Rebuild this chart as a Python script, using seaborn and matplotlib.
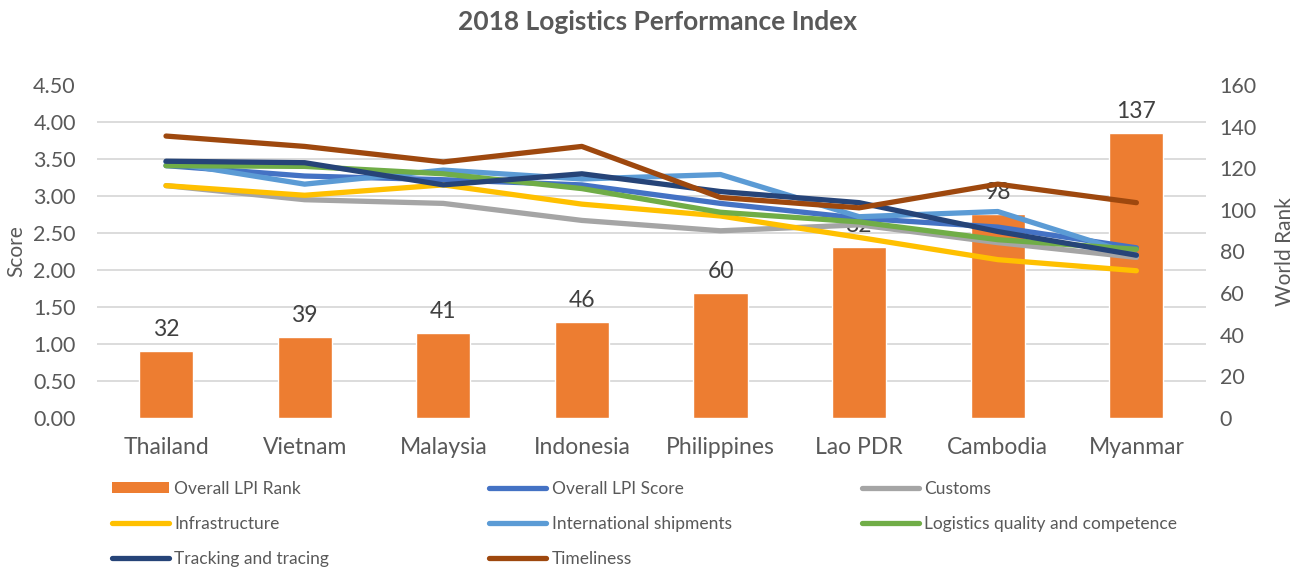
import matplotlib
matplotlib.use("Agg")
import matplotlib.pyplot as plt
import seaborn as sns
import pandas as pd
import numpy as np
from matplotlib.patches import Patch
from matplotlib.lines import Line2D

countries = ["Thailand", "Vietnam", "Malaysia", "Indonesia", "Philippines", "Lao PDR", "Cambodia", "Myanmar"]
lpi_rank = [32, 39, 41, 46, 60, 82, 98, 137]
overall_score = [3.41, 3.27, 3.22, 3.15, 2.90, 2.70, 2.58, 2.30]
customs = [3.14, 2.95, 2.90, 2.67, 2.53, 2.61, 2.37, 2.17]
infrastructure = [3.14, 3.01, 3.15, 2.89, 2.73, 2.44, 2.14, 1.99]
intl_shipments = [3.46, 3.16, 3.35, 3.23, 3.29, 2.72, 2.79, 2.20]
logistics_quality = [3.41, 3.40, 3.30, 3.10, 2.78, 2.65, 2.41, 2.28]
tracking = [3.47, 3.45, 3.15, 3.30, 3.06, 2.91, 2.52, 2.20]
timeliness = [3.81, 3.67, 3.46, 3.67, 2.98, 2.84, 3.16, 2.91]

series_names = ["Overall LPI Score", "Customs", "Infrastructure", "International shipments",
                "Logistics quality and competence", "Tracking and tracing", "Timeliness"]
series_values = [overall_score, customs, infrastructure, intl_shipments,
                 logistics_quality, tracking, timeliness]
series_colors = ["#4472C4", "#A5A5A5", "#FFC000", "#5B9BD5", "#70AD47", "#264478", "#9E480E"]
bar_color = "#ED7D31"
text_color = "#595959"

sns.set_theme(style="white")
plt.rcParams["font.family"] = ["Lato", "DejaVu Sans"]

fig = plt.figure(figsize=(12.99, 5.70), dpi=100)
ax = fig.add_axes([96.7 / 1299, 1 - 418 / 570, 1109 / 1299, 333 / 570])
ax2 = ax.twinx()

# bars on the secondary (rank) axis, drawn below the lines
rank_df = pd.DataFrame({"Country": countries, "Rank": lpi_rank})
sns.barplot(data=rank_df, x="Country", y="Rank", ax=ax2, color=bar_color,
            width=0.39, saturation=1, order=countries)
for cont in ax2.containers:
    ax2.bar_label(cont, padding=8, fontsize=16.5, color="#404040")

# lines on the primary (score) axis
long_rows = []
for name, vals in zip(series_names, series_values):
    for c, v in zip(countries, vals):
        long_rows.append({"Country": c, "Series": name, "Score": v})
long_df = pd.DataFrame(long_rows)
long_df["pos"] = long_df["Country"].map({c: i for i, c in enumerate(countries)})
sns.lineplot(data=long_df, x="pos", y="Score", hue="Series", hue_order=series_names,
             palette=dict(zip(series_names, series_colors)), ax=ax, linewidth=3.8,
             legend=False, sort=False, solid_capstyle="round")

ax.set_zorder(ax2.get_zorder() + 1)
ax.patch.set_visible(False)

ax.set_xlim(-0.5, len(countries) - 0.5)
ax.set_ylim(0, 4.5)
ax2.set_ylim(0, 160)
ax.set_yticks(np.arange(0, 4.51, 0.5))
ax.set_yticklabels([f"{v:.2f}" for v in np.arange(0, 4.51, 0.5)])
ax2.set_yticks(np.arange(0, 161, 20))
ax.set_xticks(range(len(countries)))
ax.set_xticklabels(countries)

# gridlines at score ticks drawn on the bar axis (so they sit behind the bars)
ax2.set_yticks(np.linspace(0, 160, 10), minor=True)
ax2.grid(False)
ax.grid(False)
ax2.yaxis.grid(True, which="minor", color="#D9D9D9", linewidth=1.3)
ax2.set_axisbelow(True)
ax2.tick_params(axis="y", which="minor", length=0)

for a in (ax, ax2):
    for s in a.spines.values():
        s.set_visible(False)
ax.tick_params(axis="x", length=0, labelsize=16.5, labelcolor=text_color, pad=14)
ax.tick_params(axis="y", length=0, labelsize=15.5, labelcolor=text_color, pad=15)
ax2.tick_params(axis="y", length=0, labelsize=15.5, labelcolor=text_color, pad=10)
ax2.set_xlabel("")
ax.set_xlabel("")
ax.set_ylabel("Score", fontsize=15, color=text_color, labelpad=5)
ax2.set_ylabel("World Rank", fontsize=15, color=text_color, labelpad=13)

fig.suptitle("2018 Logistics Performance Index", fontsize=19, fontweight="bold",
             color=text_color, x=657 / 1299, y=1 - 22 / 570, va="center")

# legend in three columns, row-major like the original
h_rank = Patch(facecolor=bar_color, edgecolor="none")
lines = {n: Line2D([0], [0], color=c, linewidth=3.8, solid_capstyle="round")
         for n, c in zip(series_names, series_colors)}
columns = [
    ([h_rank, lines["Infrastructure"], lines["Tracking and tracing"]],
     ["Overall LPI Rank", "Infrastructure", "Tracking and tracing"], 112),
    ([lines["Overall LPI Score"], lines["International shipments"], lines["Timeliness"]],
     ["Overall LPI Score", "International shipments", "Timeliness"], 489),
    ([lines["Customs"], lines["Logistics quality and competence"]],
     ["Customs", "Logistics quality and competence"], 862),
]
for handles, labels, xpx in columns:
    fig.legend(handles, labels, loc="upper left", bbox_to_anchor=(xpx / 1299, 1 - 481 / 570),
               frameon=False, fontsize=12.5, labelcolor=text_color, handlelength=3.3,
               handletextpad=0.3, labelspacing=1.1, borderpad=0, borderaxespad=0,
               handleheight=0.6)

fig.savefig("out.png", dpi=100)
